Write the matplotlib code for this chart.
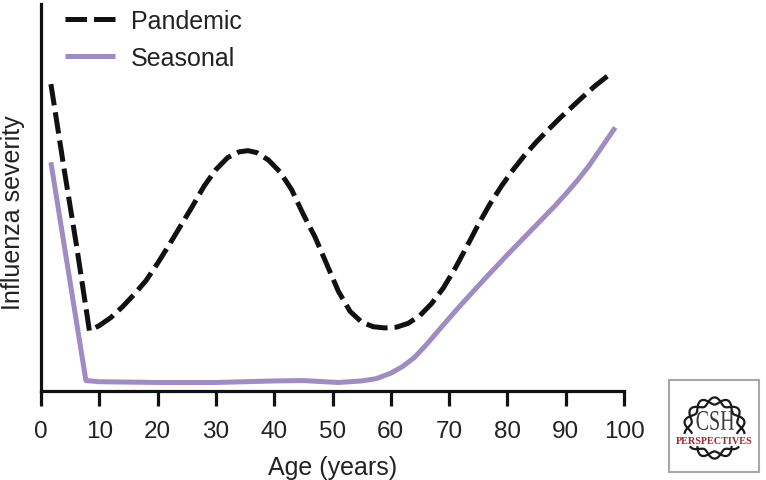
import matplotlib
matplotlib.use("Agg")
import matplotlib.pyplot as plt
import numpy as np
from matplotlib.textpath import TextPath
from matplotlib.patches import PathPatch
from matplotlib.font_manager import FontProperties
from matplotlib.transforms import Affine2D

plt.rcParams['font.family'] = ['Liberation Sans', 'DejaVu Sans']

# values (age in years, severity on a 0-100 scale)
pandemic_age = [1.7, 4.0, 6.1, 8.3, 10, 12, 14, 16, 18, 20, 22, 24, 26, 28, 30, 32,
                34, 35.5, 37, 39, 41, 43, 45, 47, 49, 51, 53, 55, 57, 59, 61, 63,
                65, 67, 69, 71, 73, 75, 77, 79, 81, 83, 85, 87, 89, 91, 93, 95, 97.6]
pandemic_sev = [79.3, 57.0, 37.5, 15.6, 16.9, 19.0, 21.8, 25.0, 28.5, 33.0, 37.8, 42.8,
                47.8, 53.0, 57.2, 60.3, 61.8, 62.1, 61.6, 59.7, 56.6, 52.0, 45.6,
                39.8, 32.8, 25.8, 20.6, 17.8, 16.6, 16.3, 16.5, 17.5, 19.5, 22.6,
                26.6, 31.6, 37.2, 43.0, 48.3, 53.0, 57.2, 61.0, 64.4, 67.5, 70.5,
                73.3, 76.1, 78.8, 81.9]

seasonal_age = [1.7, 7.7, 10, 20, 30, 40, 45, 51, 55, 57.5, 60, 62, 64, 66, 68, 70,
                72, 74, 76, 78, 80, 82, 84, 86, 88, 90, 92, 94, 96, 98.5]
seasonal_sev = [59.1, 2.7, 2.4, 2.2, 2.2, 2.6, 2.7, 2.2, 2.6, 3.2, 4.6, 6.3, 8.6, 11.8,
                15.3, 18.8, 22.2, 25.5, 28.8, 32.0, 35.2, 38.3, 41.4, 44.5, 47.6,
                50.9, 54.4, 58.2, 62.6, 68.1]

x_ticks = [0, 10, 20, 30, 40, 50, 60, 70, 80, 90, 100]
purple = '#a08cc5'
txt = '#222222'

W, H = 766, 481
fig = plt.figure(figsize=(W / 100, H / 100), dpi=100)
ax = fig.add_axes([41 / W, 1 - 392 / H, 583 / W, 387 / H])

ax.plot(pandemic_age, pandemic_sev, color='#111111', lw=3.6, dashes=(4.3, 1.4),
        dash_capstyle='butt', label='Pandemic')
ax.plot(seasonal_age, seasonal_sev, color=purple, lw=3.6, solid_capstyle='butt',
        label='Seasonal')

ax.set_xlim(0, 100)
ax.set_ylim(0, 100)
ax.set_xticks(x_ticks)
ax.set_yticks([])
for s in ['top', 'right']:
    ax.spines[s].set_visible(False)
for s in ['left', 'bottom']:
    ax.spines[s].set_linewidth(2.3)
    ax.spines[s].set_color('#111111')
ax.tick_params(axis='x', direction='out', length=11, width=2.3, color='#111111',
               labelsize=17.5, labelcolor=txt, pad=10)
ax.set_xlabel('Age (years)', fontsize=18, color=txt, labelpad=9)
fig.text(13 / W, 1 - 213 / H, 'Influenza severity', rotation=90, fontsize=18,
         color=txt, ha='center', va='center')

leg = ax.legend(loc='upper left', bbox_to_anchor=(65 / W, 1 - 10 / H),
                bbox_transform=fig.transFigure, frameon=False, fontsize=18,
                handlelength=2.0, handletextpad=0.64, labelspacing=0.5,
                borderpad=0, borderaxespad=0)
for t in leg.get_texts():
    t.set_color(txt)

# CSH Perspectives logo box
lax = fig.add_axes([669 / W, 1 - 473 / H, 90 / W, 92 / H])
lax.set_xlim(0, 90)
lax.set_ylim(92, 0)
lax.set_xticks([])
lax.set_yticks([])
for s in lax.spines.values():
    s.set_color('#a8a8a8')
    s.set_linewidth(1.5)
th = np.linspace(0, 2 * np.pi, 800)
for sgn in (1, -1):
    r = 27 + sgn * 3.6 * np.sin(7 * th)
    xs = 45.5 + r * np.cos(th)
    ys = 48 + r * np.sin(th)
    ys = np.where((ys > 53) & (ys < 67), np.nan, ys)
    lax.plot(xs, ys, color='#1a1a1a', lw=1.6)

# narrow serif "CSH", stretched to the box it fills in the reference
tp = TextPath((0, 0), 'CSH', size=10, prop=FontProperties(family='Liberation Serif'))
bb = tp.get_extents()
tr = (Affine2D().translate(-bb.x0, -bb.y0)
      .scale(37.5 / bb.width, -19.0 / bb.height).translate(27.5, 50.0))
lax.add_patch(PathPatch(tr.transform_path(tp), color='#3a3a3a', lw=0))
lax.text(45.5, 60.5, 'PERSPECTIVES', fontsize=7.3, family='Liberation Serif',
         weight='bold', color='#a3262c', ha='center', va='center')

fig.savefig('out.png', dpi=100)
